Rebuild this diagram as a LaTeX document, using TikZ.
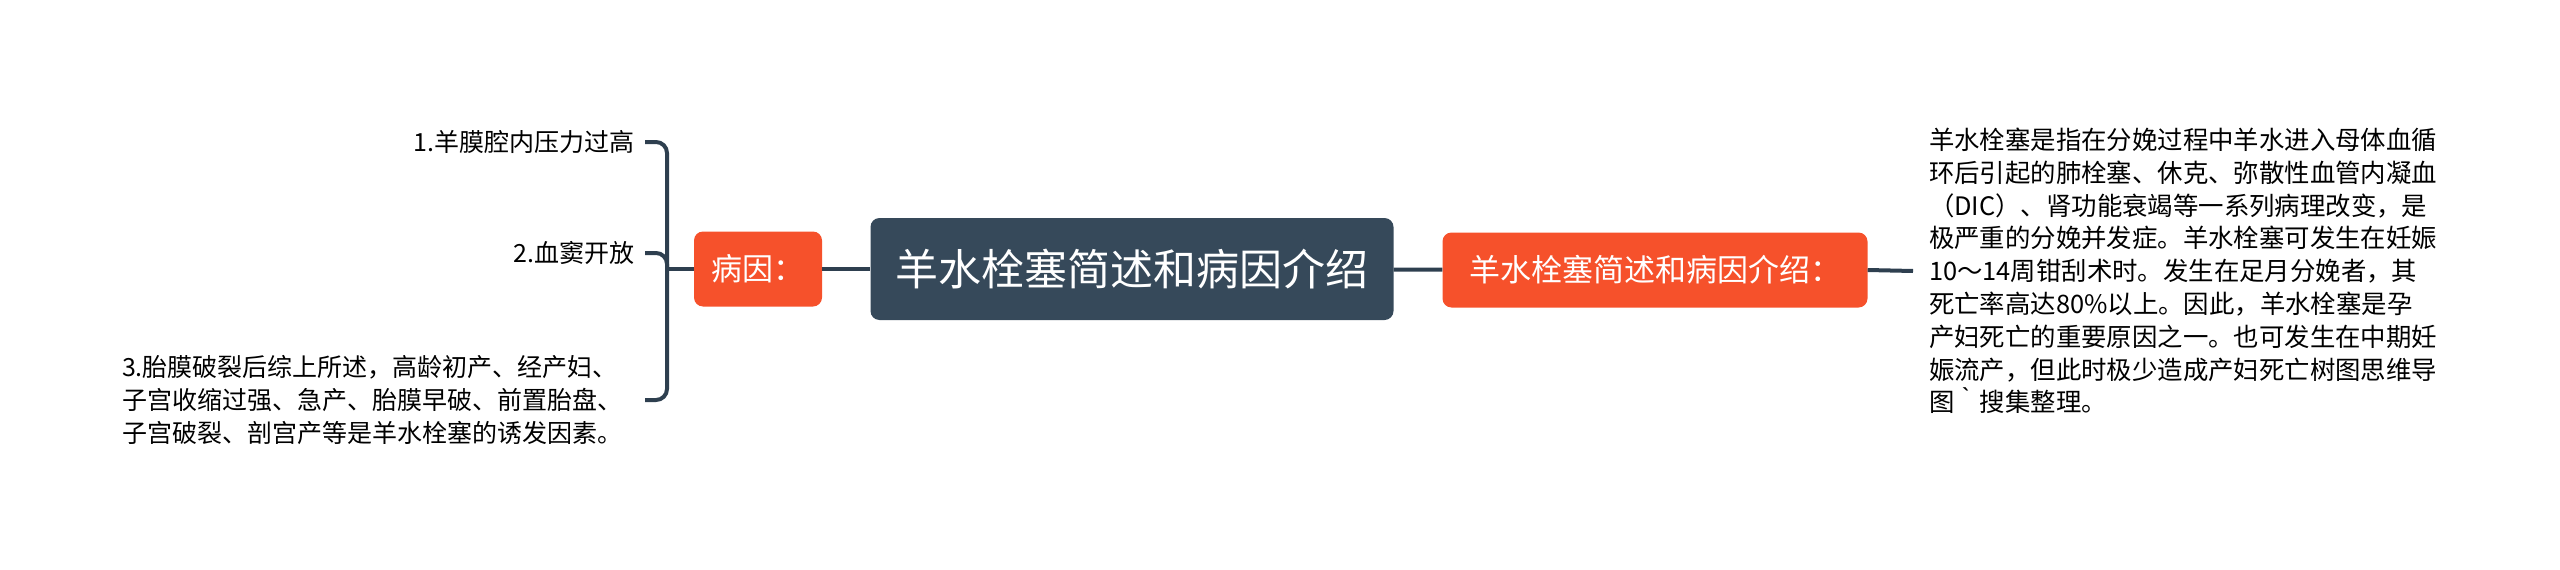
\documentclass[tikz,border=0pt]{standalone}
\usepackage{fontspec}
\setmainfont{Noto Sans CJK SC}
\definecolor{slate}{HTML}{36495A}
\definecolor{linkc}{HTML}{2E3F4F}
\definecolor{tomato}{HTML}{F6512B}

\begin{document}
\begin{tikzpicture}[x=1pt,y=-1pt,
  link/.style={draw=linkc,line width=4pt},
  rootbox/.style={fill=slate,text=white,rounded corners=9pt,minimum width=523pt,minimum height=102pt,font=\fontsize{43}{50}\selectfont},
  topic/.style={fill=tomato,text=white,rounded corners=9pt,minimum height=75pt,font=\fontsize{31}{36}\selectfont},
  leaf/.style={inner sep=0pt,outer xsep=11pt,align=left,font=\fontsize{25}{33}\selectfont}]
\useasboundingbox (0,0) rectangle (2560,570);

\node[rootbox] (root) at (1132,269) {羊水栓塞简述和病因介绍};
\node[topic,minimum width=128pt] (cause) at (758,269) {病因：};
\node[topic,minimum width=425pt] (intro) at (1655,270) {羊水栓塞简述和病因介绍：};

% left side
\node[leaf,anchor=east] (item1) at (645,142) {1.羊膜腔内压力过高};
\node[leaf,anchor=east] (item2) at (645,253) {2.血窦开放};
\node[leaf,anchor=east,text width=512pt] (item3) at (645,400) {3.胎膜破裂后综上所述，高龄初产、经产妇、\\子宫收缩过强、急产、胎膜早破、前置胎盘、\\子宫破裂、剖宫产等是羊水栓塞的诱发因素。};
\coordinate (fork) at (667,269);

% right side
\node[leaf,outer xsep=0pt,inner xsep=16pt,anchor=west,font=\fontsize{25.4}{32.8}\selectfont] (desc) at (1913,271) {羊水栓塞是指在分娩过程中羊水进入母体血循\\环后引起的肺栓塞、休克、弥散性血管内凝血\\（DIC）、肾功能衰竭等一系列病理改变，是\\极严重的分娩并发症。羊水栓塞可发生在妊娠\\10～14周钳刮术时。发生在足月分娩者，其\\死亡率高达80\%以上。因此，羊水栓塞是孕\\产妇死亡的重要原因之一。也可发生在中期妊\\娠流产，但此时极少造成产妇死亡树图思维导\\图｀搜集整理。};

\draw[link,rounded corners=11pt] (item1.east) -| (fork) |- (item3.east);
\draw[link,rounded corners=11pt] (item2.east) -| (fork);
\draw[link] (fork) -- (cause.west);
\draw[link] (cause) -- (root);
\draw[link] (root) -- (intro);
\draw[link] (intro.east) -- (desc.west);

\end{tikzpicture}
\end{document}
